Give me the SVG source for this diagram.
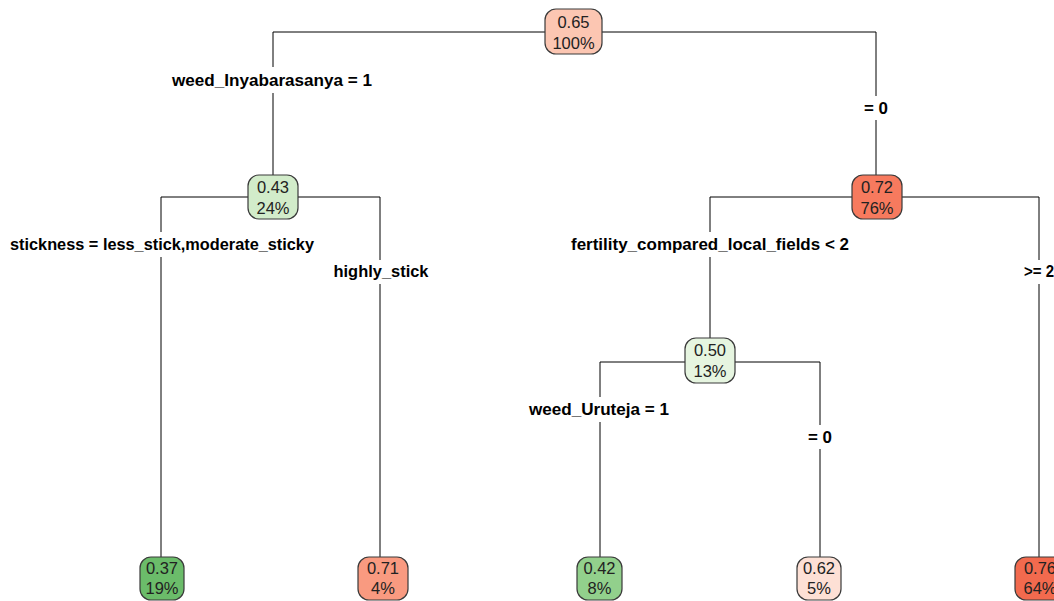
<svg xmlns="http://www.w3.org/2000/svg" width="1054" height="601" viewBox="0 0 1054 601">
<style>
.edge{stroke:#000;stroke-width:1;fill:none}
.lblbg{fill:#fff}
.lbl{font-family:"Liberation Sans",Arial,sans-serif;font-weight:bold;font-size:16.5px;fill:#000;text-anchor:middle}
.box{stroke:#3a3a3a;stroke-width:1.2}
.nt{font-family:"Liberation Sans",Arial,sans-serif;font-size:16.5px;fill:#222;text-anchor:middle}
</style>
<rect width="1054" height="601" fill="#fff"/>
<g id="connectors">
<path class="edge" d="M273,175 V32 H876 V175"/>
<path class="edge" d="M161,557 V197 H380 V557"/>
<path class="edge" d="M710,338 V197 H1039 V557"/>
<path class="edge" d="M600,557 V362 H820 V557"/>
<rect class="lblbg" x="166" y="67" width="212" height="26"/>
<text class="lbl" x="272" y="86" textLength="200" lengthAdjust="spacingAndGlyphs">weed_Inyabarasanya = 1</text>
<rect class="lblbg" x="858" y="96" width="36" height="24"/>
<text class="lbl" x="876" y="114" textLength="24" lengthAdjust="spacingAndGlyphs">= 0</text>
<rect class="lblbg" x="4" y="232" width="316" height="25"/>
<text class="lbl" x="162" y="250" textLength="304" lengthAdjust="spacingAndGlyphs">stickness = less_stick,moderate_sticky</text>
<rect class="lblbg" x="328" y="260" width="106" height="24"/>
<text class="lbl" x="381" y="277" textLength="95" lengthAdjust="spacingAndGlyphs">highly_stick</text>
<rect class="lblbg" x="565" y="232" width="290" height="25"/>
<text class="lbl" x="710" y="250" textLength="278" lengthAdjust="spacingAndGlyphs">fertility_compared_local_fields &lt; 2</text>
<rect class="lblbg" x="1018" y="260" width="42" height="24"/>
<text class="lbl" x="1024" y="277" style="text-anchor:start" textLength="30" lengthAdjust="spacingAndGlyphs">&gt;= 2</text>
<rect class="lblbg" x="523" y="397" width="152" height="25"/>
<text class="lbl" x="599" y="415" textLength="140" lengthAdjust="spacingAndGlyphs">weed_Uruteja = 1</text>
<rect class="lblbg" x="802" y="425" width="36" height="24"/>
<text class="lbl" x="820" y="443" textLength="24" lengthAdjust="spacingAndGlyphs">= 0</text>
</g>
<g id="n1"><rect class="box" x="545" y="9" width="57" height="45" rx="11" fill="#fcc6b2"/><text class="nt" x="573.5" y="28">0.65</text><text class="nt" x="573.5" y="49">100%</text></g>
<g id="n2"><rect class="box" x="248" y="175" width="50" height="44" rx="11" fill="#d2ecca"/><text class="nt" x="273" y="193">0.43</text><text class="nt" x="273" y="214">24%</text></g>
<g id="n3"><rect class="box" x="852" y="175" width="50" height="44" rx="11" fill="#f77a5e"/><text class="nt" x="877" y="193">0.72</text><text class="nt" x="877" y="214">76%</text></g>
<g id="n4"><rect class="box" x="140" y="557" width="44" height="43" rx="11" fill="#6bbc6a"/><text class="nt" x="162" y="574">0.37</text><text class="nt" x="162" y="594">19%</text></g>
<g id="n5"><rect class="box" x="358" y="557" width="50" height="43" rx="11" fill="#f99a80"/><text class="nt" x="383" y="574">0.71</text><text class="nt" x="383" y="594">4%</text></g>
<g id="n6"><rect class="box" x="685" y="338" width="50" height="45" rx="11" fill="#e6f5e0"/><text class="nt" x="710" y="356">0.50</text><text class="nt" x="710" y="377">13%</text></g>
<g id="n7"><rect class="box" x="577" y="557" width="45" height="43" rx="11" fill="#92d08c"/><text class="nt" x="599.5" y="574">0.42</text><text class="nt" x="599.5" y="594">8%</text></g>
<g id="n8"><rect class="box" x="797" y="557" width="44" height="43" rx="11" fill="#fde0d5"/><text class="nt" x="819" y="574">0.62</text><text class="nt" x="819" y="594">5%</text></g>
<g id="n9"><rect class="box" x="1015" y="557" width="50" height="43" rx="11" fill="#f26a4e"/><text class="nt" x="1040" y="574">0.76</text><text class="nt" x="1040" y="594">64%</text></g>
</svg>
